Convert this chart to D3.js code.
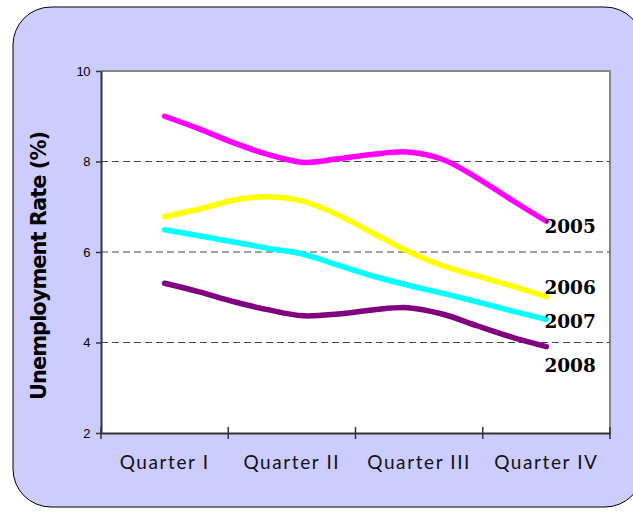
<!DOCTYPE html>
<html>
<head>
<meta charset="UTF-8">
<title>Unemployment Rate</title>
<script src="https://d3js.org/d3.v7.min.js"></script>
<style>
  body { margin: 0; background: #fff; }
</style>
</head>
<body>
<svg width="633" height="512"></svg>
<script>
  const quarters = ["Quarter I", "Quarter II", "Quarter III", "Quarter IV"];
  const months = ["Jan", "Feb", "Mar", "Apr", "May", "Jun", "Jul", "Aug", "Sep", "Oct", "Nov", "Dec"];
  const yTicks = [2, 4, 6, 8, 10];
  const years = ["2005", "2006", "2007", "2008"];
  const rate2005 = [9.0, 8.72, 8.41, 8.15, 7.98, 8.06, 8.16, 8.21, 8.05, 7.64, 7.15, 6.68];
  const rate2006 = [6.78, 6.95, 7.15, 7.22, 7.12, 6.82, 6.42, 6.02, 5.70, 5.47, 5.25, 5.01];
  const rate2007 = [6.49, 6.36, 6.22, 6.08, 5.95, 5.71, 5.47, 5.27, 5.09, 4.90, 4.70, 4.51];
  const rate2008 = [5.31, 5.12, 4.90, 4.72, 4.59, 4.63, 4.72, 4.77, 4.63, 4.37, 4.12, 3.91];

  const series = [rate2005, rate2006, rate2007, rate2008];
  const colors = ["#ff00ff", "#ffff00", "#00ffff", "#800080"];
  const labelDy = [12, -3, 9, 25];

  const svg = d3.select("svg");

  // panel background
  svg.append("rect")
    .attr("x", 13).attr("y", 7)
    .attr("width", 630).attr("height", 500)
    .attr("rx", 38)
    .attr("fill", "#ccccff")
    .attr("stroke", "#000")
    .attr("stroke-width", 1);

  const pLeft = 101, pRight = 610, pTop = 71, pBottom = 433;

  const x = d3.scaleBand()
    .domain(quarters)
    .range([pLeft, pRight]);

  const xm = d3.scalePoint()
    .domain(months)
    .range([x(quarters[0]) + x.bandwidth() / 2, x(quarters[3]) + x.bandwidth() / 2]);

  const y = d3.scaleLinear()
    .domain([2, 10])
    .range([pBottom, pTop]);

  // plot area
  svg.append("rect")
    .attr("x", pLeft).attr("y", pTop)
    .attr("width", pRight - pLeft).attr("height", pBottom - pTop)
    .attr("fill", "#fff");

  svg.append("path")
    .attr("d", `M${pLeft},${pTop}H${pRight}V${pBottom}`)
    .attr("fill", "none")
    .attr("stroke", "#888")
    .attr("stroke-width", 2);

  // dashed grid
  svg.append("g")
    .selectAll("line")
    .data(yTicks.filter(d => d > 2 && d < 10))
    .join("line")
    .attr("x1", pLeft).attr("x2", pRight)
    .attr("y1", d => y(d)).attr("y2", d => y(d))
    .attr("stroke", "#444")
    .attr("stroke-width", 1)
    .attr("stroke-dasharray", "7,4");

  // y axis
  const yAxis = svg.append("g")
    .attr("transform", `translate(${pLeft},0)`)
    .call(d3.axisLeft(y).tickValues(yTicks).tickSize(5).tickSizeOuter(0).tickPadding(6));
  yAxis.select(".domain").attr("stroke", "#333").attr("stroke-width", 2);
  yAxis.selectAll(".tick line").attr("stroke", "#333").attr("stroke-width", 1.5);
  yAxis.selectAll(".tick text")
    .attr("font-family", "Liberation Sans, Arial, sans-serif")
    .attr("font-size", 13)
    .attr("letter-spacing", -0.5)
    .attr("fill", "#000");

  // x axis
  const xAxis = svg.append("g")
    .attr("transform", `translate(0,${pBottom})`)
    .call(d3.axisBottom(x).tickSize(0).tickPadding(23));
  xAxis.select(".domain").attr("stroke", "#333").attr("stroke-width", 2);
  xAxis.selectAll(".tick text")
    .attr("font-family", "Lato, sans-serif")
    .attr("font-size", 19)
    .attr("letter-spacing", 1.6)
    .attr("fill", "#111");

  const edges = quarters.map(q => x(q)).concat([x(quarters[3]) + x.bandwidth()]);
  xAxis.selectAll(".qtick")
    .data(edges)
    .join("line")
    .attr("class", "qtick")
    .attr("x1", d => d).attr("x2", d => d)
    .attr("y1", -6).attr("y2", 6)
    .attr("stroke", "#333")
    .attr("stroke-width", 1.5);

  // lines
  const line = d3.line()
    .x((d, i) => xm(months[i]))
    .y(d => y(d))
    .curve(d3.curveCatmullRom.alpha(0.5));

  svg.append("g")
    .selectAll("path")
    .data(series)
    .join("path")
    .attr("d", line)
    .attr("fill", "none")
    .attr("stroke", (d, i) => colors[i])
    .attr("stroke-width", 5.5)
    .attr("stroke-linecap", "round")
    .attr("stroke-linejoin", "round");

  // year labels
  svg.append("g")
    .selectAll("text")
    .data(series)
    .join("text")
    .attr("x", xm(months[11]) - 2)
    .attr("y", (d, i) => y(d[11]) + labelDy[i])
    .attr("font-family", "DejaVu Serif, serif")
    .attr("font-weight", "bold")
    .attr("font-size", 18.5)
    .attr("fill", "#000")
    .text((d, i) => years[i]);

  // y title
  svg.append("text")
    .attr("transform", `translate(46,${(pTop + pBottom) / 2 + 14}) rotate(-90)`)
    .attr("text-anchor", "middle")
    .attr("font-family", "DejaVu Sans, sans-serif")
    .attr("font-weight", "bold")
    .attr("font-size", 21)
    .attr("letter-spacing", -1)
    .attr("fill", "#000")
    .text("Unemployment Rate (%)");
</script>
</body>
</html>
